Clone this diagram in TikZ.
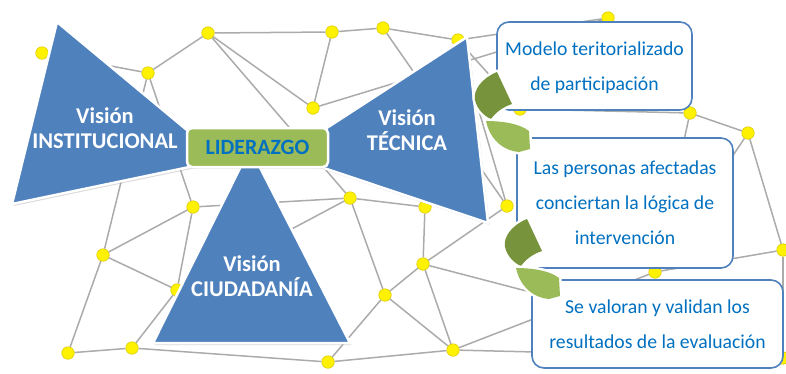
\documentclass[tikz,border=0pt]{standalone}
\usepackage{fontspec}
\setmainfont{Carlito}
\usetikzlibrary{shadows}
\definecolor{triblue}{HTML}{4F81BD}
\definecolor{liderfill}{HTML}{9BBB59}
\definecolor{petaldark}{HTML}{77933C}
\definecolor{textblue}{HTML}{0070C0}
\definecolor{netgray}{HTML}{ABABAB}
\definecolor{dotyellow}{HTML}{FFF200}
\definecolor{dotedge}{HTML}{D9C800}

\begin{document}
\begin{tikzpicture}[x=1pt,y=-1pt,
		net/.style={draw=netgray,line width=1.5pt},
		dot/.style={circle,fill=dotyellow,draw=dotedge,line width=.6pt,inner sep=0pt,minimum size=12.5pt},
		vision/.style={fill=triblue,draw=white,line width=2.5pt,drop shadow={shadow xshift=1.5pt,shadow yshift=-2pt,opacity=.3}},
		vlabel/.style={text=white,align=center,font=\bfseries\fontsize{22.5}{25}\selectfont},
		lider/.style={fill=liderfill,draw=white,line width=2.5pt,rounded corners=5pt,minimum width=141pt,minimum height=39pt,text=textblue,font=\bfseries\fontsize{21.8}{24}\selectfont,drop shadow={shadow xshift=1pt,shadow yshift=-1.5pt,opacity=.3}},
		callout/.style={draw=triblue,line width=1.6pt,fill=white,rounded corners=12pt,inner sep=0pt,text depth=0pt,text=textblue,align=center,font=\fontsize{19.7}{35}\selectfont},
		petal/.style={drop shadow={shadow xshift=1pt,shadow yshift=-1.5pt,opacity=.3},preaction={draw=white,line width=5pt,line join=round}}]
	\useasboundingbox (0,0) rectangle (786,373);
	\foreach \n/\px/\py in {a/42/53,b/148/73,c/208/33,d/332/32,e/383/28,f/458/40,g/313/108,h/608/18,i/520/109,j/690/113,k/748/133,l/350/198,m/425/207,n/507/206,o/193/207,p/103/255,q/177/290,r/385/295,s/423/264,t/453/350,u/328/362,v/68/353,w/132/348,x/655/272,y/783/250,z/783/358}
		\node[dot] (\n) at (\px,\py) {};
	\path[net]
		(a) edge (b) (b) edge (c) (c) edge (d) (d) edge (e) (e) edge (f)
		(c) edge (g) (d) edge (g) (g) edge (h) (f) edge (h) (f) edge (i)
		(i) edge (j) (j) edge (k) (k) edge (y) (y) edge (x) (e) edge (n)
		(c) edge (l) (b) edge (o) (o) edge (p) (o) edge (q) (o) edge (l)
		(p) edge (q) (p) edge (v) (v) edge (w) (w) edge (q) (w) edge (u)
		(p) edge (b) (l) edge (m) (l) edge (r) (l) edge (q) (m) edge (s)
		(s) edge (r) (s) edge (n) (s) edge (t) (s) edge (z) (r) edge (t)
		(r) edge (u) (u) edge (t) (t) edge (x) (n) edge (f) (k) edge (x)
		(j) edge (x) (y) edge (z) (t) edge (z);
	\path[vision] (57,22) -- (223,160) -- (12,204) -- cycle;
	\path[vision] (467,37) -- (488,223) -- (285,155) -- cycle;
	\path[vision] (250,148) -- (350,343) -- (153,343) -- cycle;
	\node[vlabel] (inst) at (105,128) {Visión\\INSTITUCIONAL};
	\node[vlabel] (tec) at (407,130) {Visión\\TÉCNICA};
	\node[vlabel] (ciu) at (252,276) {Visión\\CIUDADANÍA};
	\node[lider] (lid) at (257.5,147.5) {LIDERAZGO};
	\node[callout,minimum width=195pt,minimum height=88pt] (modelo) at (594.5,66) {Modelo teritorializado\\de participación};
	\node[callout,minimum width=216pt,minimum height=130pt] (personas) at (625,203) {Las personas afectadas\\conciertan la lógica de\\intervención};
	\node[callout,minimum width=251pt,minimum height=88pt] (valoran) at (657.5,324) {Se valoran y validan los\\resultados de la evaluación};
	\foreach \dx/\dy in {0/0,30/147}
	{
		\begin{scope}[shift={(\dx,\dy)}]
			\path[petal,fill=petaldark] (497,72) .. controls (482,78) and (473,90) .. (475,100) .. controls (477,109) and (484,116) .. (491,119) .. controls (496,112) and (503,107) .. (512,104) -- cycle;
			\path[petal,fill=liderfill] (486,121) .. controls (500,121) and (519,123) .. (529,131) -- (530,149) -- (519,152) .. controls (504,151) and (490,140) .. (486,121) -- cycle;
		\end{scope}
	}
\end{tikzpicture}
\end{document}
